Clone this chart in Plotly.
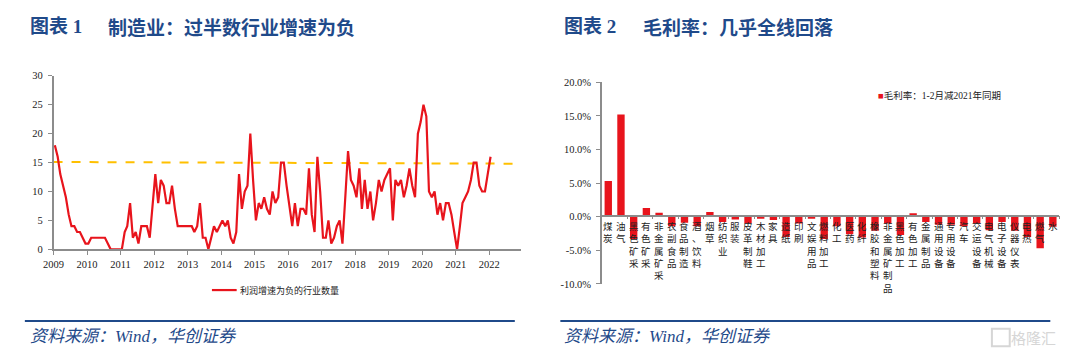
import plotly.graph_objects as go

# ---------------- data: chart 1 (monthly count of industries with negative profit growth) ----------------
start_year = 2009
neg_count = [18, 16, 13, 11, 9, 6, 4, 4, 3, 3, 2, 1,
             1, 2, 2, 2, 2, 2, 2, 1, 0, 0, 0, 0,
             0, 3, 4, 8, 2, 3, 1, 4, 4, 4, 2, 7,
             13, 8, 12, 11, 8, 8, 11, 7, 4, 4, 4, 4,
             4, 4, 3, 4, 8, 2, 2, 0, 2, 4, 3, 4,
             5, 4, 5, 2, 1, 3, 13, 7, 10, 11, 20, 12,
             5, 8, 7, 9, 7, 6, 10, 8, 9, 15, 15, 11,
             7, 4, 8, 4, 7, 7, 6, 14, 6, 3, 16, 10,
             2, 2, 5, 1, 2, 4, 5, 1, 9, 17, 12, 11,
             9, 14, 7, 12, 7, 10, 5, 8, 12, 10, 12, 13,
             14, 5, 12, 11, 12, 9, 11, 14, 11, 9, 20, 22,
             25, 23, 10, 9, 10, 6, 8, 5, 8, 8, 6, 3,
             0, 4, 8, 9, 10, 12, 15, 15, 11, 10, 10, 13,
             16]
trend_x = ["2009-01-01", "2022-12-10"]
trend_y = [15.1, 14.8]
year_ticks = list(range(2009, 2023))
line_name = "利润增速为负的行业数量"

# ---------------- data: chart 2 (gross margin change, pct pts) ----------------
industries = ["煤炭", "油气", "黑色矿采", "有色矿采", "非金属矿采", "农副食品", "食品制造", "酒、饮料",
              "烟草", "纺织业", "服装", "皮革制鞋", "木材加工", "家具", "造纸", "印刷", "文娱用品",
              "燃料加工", "化工", "医药", "化纤", "橡胶和塑料", "非金属矿制品", "黑色加工", "有色加工",
              "金属制品", "通用设备", "专用设备", "汽车", "交运设备", "电气机械", "电子设备", "仪器仪表",
              "电热", "燃气", "水"]
margin_chg = [5.3, 15.2, -3.3, 1.3, 0.6, -1.4, -0.9, -1.4, 0.7, -0.8, -0.4, -1.0, -0.3, -0.5,
              -3.0, -1.0, -0.3, -3.3, -1.4, -2.6, -3.1, -2.1, -1.0, -2.7, 0.5, -0.8, -1.2, -1.2,
              -1.4, -1.0, -2.0, -0.8, -2.1, -3.0, -4.7, -1.5]
bar_name = "毛利率：1-2月减2021年同期"
y2_ticks = [20, 15, 10, 5, 0, -5, -10]
y2_ticktext = ["20.0%", "15.0%", "10.0%", "5.0%", "0.0%", "-5.0%", "-10.0%"]

# ---------------- styles ----------------
RED = "#E8141C"
ORANGE = "#FFC000"
BLUE = "#1F4A8A"
AX = "#8C8C8C"
SERIF = "Liberation Serif, Noto Sans CJK SC"
CJK = "Noto Sans CJK SC"
W, H = 1080, 362

def px(xp):
    return xp / W

def py(yp):
    return 1 - yp / H

dates = [f"{start_year + j // 12}-{j % 12 + 1:02d}-15" for j in range(len(neg_count))]

fig = go.Figure()
fig.add_trace(go.Scatter(x=trend_x, y=trend_y, mode="lines", xaxis="x", yaxis="y",
                         line=dict(color=ORANGE, width=2, dash="dash"), showlegend=False,
                         hoverinfo="skip"))
fig.add_trace(go.Scatter(x=dates, y=neg_count, mode="lines", name=line_name, xaxis="x", yaxis="y",
                         line=dict(color=RED, width=2.2), showlegend=False))
fig.add_trace(go.Bar(x=industries, y=margin_chg, name=bar_name, xaxis="x2", yaxis="y2",
                     marker=dict(color=RED, line=dict(width=0)), width=0.58, showlegend=False))

zero_pos = py(217.3)

fig.update_layout(
    width=W, height=H, margin=dict(l=0, r=0, t=0, b=0),
    paper_bgcolor="white", plot_bgcolor="white",
    font=dict(family=SERIF, size=10, color="#222222"),
    xaxis=dict(domain=[px(43), px(515)], type="date", range=["2009-01-01", "2022-12-10"],
               tickvals=[f"{y}-01-01" for y in year_ticks], ticktext=[str(y) for y in year_ticks],
               showline=True, linecolor=AX, linewidth=1.5, ticks="outside", ticklen=4,
               tickcolor=AX, showgrid=False, zeroline=False, anchor="y",
               tickfont=dict(family=SERIF, size=10.5, color="#222")),
    yaxis=dict(domain=[py(252), py(73)], range=[0, 30], dtick=5, anchor="x",
               showline=True, linecolor=AX, linewidth=1.5, ticks="outside", ticklen=4,
               tickcolor=AX, showgrid=False, zeroline=False, ticklabelstandoff=3,
               tickfont=dict(family=SERIF, size=10.5, color="#222")),
    xaxis2=dict(domain=[px(597), px(1059)], type="category", range=[-0.5, len(industries) - 0.5],
                anchor="free", position=zero_pos, showline=True, linecolor=AX, linewidth=1.5,
                ticks="outside", tickson="boundaries", ticklen=3, tickcolor=AX,
                showticklabels=False, showgrid=False, zeroline=False),
    yaxis2=dict(domain=[py(287.7), py(79.7)], range=[-10, 20], anchor="x2",
                tickvals=y2_ticks, ticktext=y2_ticktext,
                showline=True, linecolor=AX, linewidth=1.5, ticks="outside", ticklen=4,
                tickcolor=AX, showgrid=False, zeroline=False, ticklabelstandoff=3,
                tickfont=dict(family=SERIF, size=10.5, color="#222")),
)

ann = []
# titles
for x0, label in [(17, "图表 1"), (557, "图表 2")]:
    ann.append(dict(xref="paper", yref="paper", x=px(x0), y=py(22), xanchor="left", yanchor="middle",
                    text=f"<b>{label}</b>", showarrow=False,
                    font=dict(family=SERIF, size=19, color=BLUE)))
for x0, label in [(96, "制造业：过半数行业增速为负"), (636, "毛利率：几乎全线回落")]:
    ann.append(dict(xref="paper", yref="paper", x=px(x0), y=py(22), xanchor="left", yanchor="middle",
                    text=f"<b>{label}</b>", showarrow=False,
                    font=dict(family=CJK, size=19, color=BLUE)))
# sources
for x0 in (17, 557):
    ann.append(dict(xref="paper", yref="paper", x=px(x0), y=py(342), xanchor="left", yanchor="middle",
                    text="<i>资料来源：Wind，华创证券</i>", showarrow=False,
                    font=dict(family=SERIF, size=17, color=BLUE)))
# watermark
ann.append(dict(xref="paper", yref="paper", x=px(1058), y=py(343), xanchor="right", yanchor="middle",
                text="格隆汇", showarrow=False, font=dict(family=CJK, size=15, color="#D6D6D6")))
# legend 1
ann.append(dict(xref="paper", yref="paper", x=px(229), y=py(294), xanchor="left", yanchor="middle",
                text=line_name, showarrow=False, font=dict(family=CJK, size=9, color="#222")))
# legend 2
ann.append(dict(xref="paper", yref="paper", x=px(874), y=py(93), xanchor="left", yanchor="middle",
                text=f'<span style="color:{RED}">■</span>{bar_name}', showarrow=False,
                font=dict(family=SERIF, size=9.5, color="#222")))
# vertical category labels (one upright character per row)
for name in industries:
    ann.append(dict(xref="x2", yref="y2", x=name, y=0, xanchor="center", yanchor="top",
                    text="<br>".join(list(name)), showarrow=False, yshift=-1, borderpad=0,
                    font=dict(family=CJK, size=9.5, color="#222")))

shapes = [
    dict(type="line", xref="paper", yref="paper", x0=px(203), x1=px(228), y0=py(294), y1=py(294),
         line=dict(color=RED, width=2.2)),
    dict(type="line", xref="paper", yref="paper", x0=px(14), x1=px(509), y0=py(326), y1=py(326),
         line=dict(color=BLUE, width=2)),
    dict(type="line", xref="paper", yref="paper", x0=px(555), x1=px(1050), y0=py(326), y1=py(326),
         line=dict(color=BLUE, width=2)),
    dict(type="rect", xref="paper", yref="paper", x0=px(991), x1=px(1009), y0=py(352), y1=py(334),
         line=dict(color="#D6D6D6", width=2)),
]

fig.update_layout(annotations=ann, shapes=shapes)
fig.write_html("out.html", config={"displayModeBar": False},
               post_script="document.body.style.margin='0';document.body.style.overflow='hidden';")
